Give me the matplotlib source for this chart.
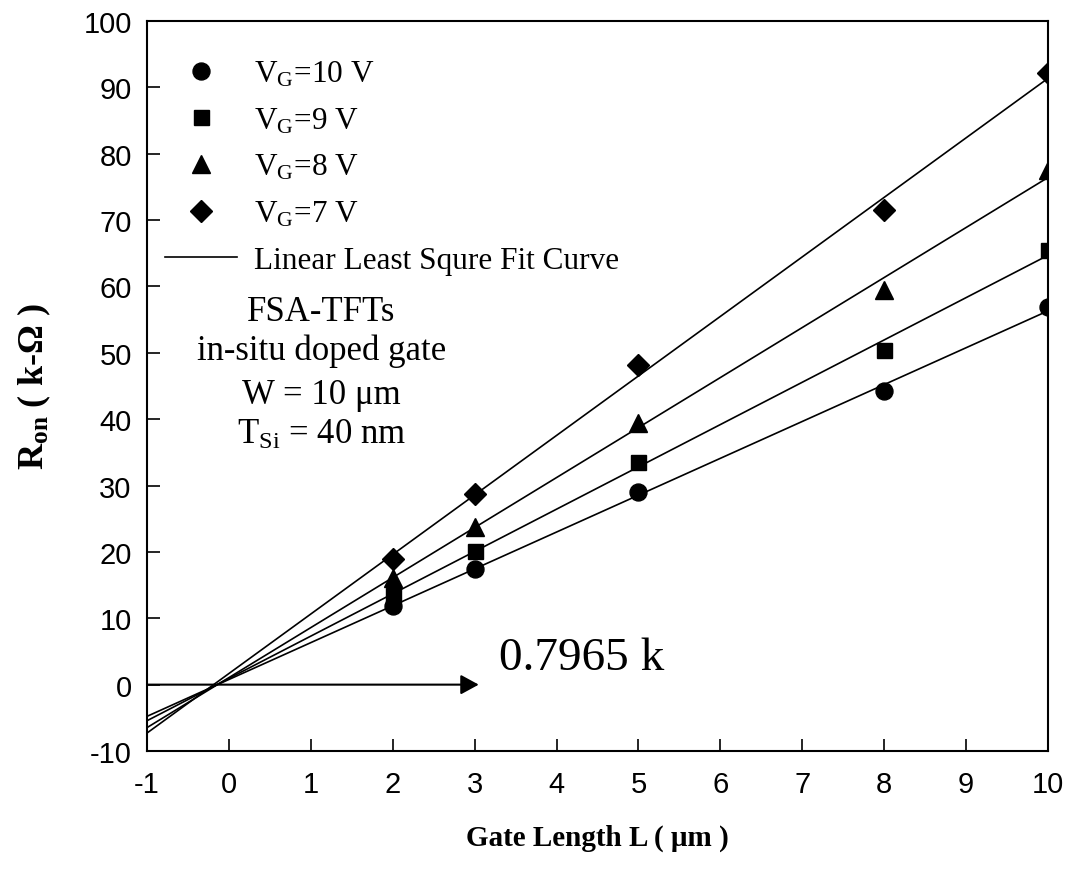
import numpy as np
import matplotlib
matplotlib.use("Agg")
import matplotlib.pyplot as plt

plt.rcParams['mathtext.fontset'] = 'custom'
plt.rcParams['mathtext.rm'] = 'Liberation Serif'
plt.rcParams['mathtext.it'] = 'Liberation Serif:italic'
plt.rcParams['mathtext.bf'] = 'Liberation Serif:bold'
plt.rcParams['axes.unicode_minus'] = False

# ---- data ----
gate_length = [2, 3, 5, 8, 10]
ron_vg10 = [11.8, 17.5, 29.0, 44.2, 56.9]
ron_vg9 = [13.5, 20.2, 33.5, 50.5, 65.5]
ron_vg8 = [16.0, 23.8, 39.5, 59.5, 77.5]
ron_vg7 = [19.0, 28.7, 48.1, 71.5, 92.2]
series_labels = [r"V$_\mathregular{G}$=10 V", r"V$_\mathregular{G}$=9 V",
                 r"V$_\mathregular{G}$=8 V", r"V$_\mathregular{G}$=7 V"]
fit_label = "Linear Least Squre Fit Curve"
x_ticks = list(range(-1, 11))
y_ticks = list(range(-10, 101, 10))
intercept_text = "0.7965 k"
arrow_end_x = 3.05

serif = 'Liberation Serif'
sans = 'Liberation Sans'

fig = plt.figure(figsize=(10.72, 8.70), dpi=100)
ax = fig.add_axes([147/1072, 1-752/870, (1048-147)/1072, (752-22)/870])

series = [ron_vg10, ron_vg9, ron_vg8, ron_vg7]
markers = ['o', 's', '^', 'D']
msizes = [12.2, 10.8, 13.0, 10.8]

xfit = np.array([-1.0, 10.0])
handles = []
for ys, m, ms, lab in zip(series, markers, msizes, series_labels):
    k, b = np.polyfit(gate_length, ys, 1)
    ax.plot(xfit, k*xfit + b, color='k', lw=1.2, zorder=2)
    h, = ax.plot(gate_length, ys, linestyle='none', marker=m, ms=ms,
                 color='k', mec='k', zorder=3, label=lab)
    handles.append(h)
lh, = ax.plot([], [], color='k', lw=1.2, label=fit_label)
handles.append(lh)

ax.set_xlim(-1, 10)
ax.set_ylim(-10, 100)
ax.set_xticks(x_ticks)
ax.set_yticks(y_ticks)
ax.tick_params(direction='in', length=9, width=1.2, top=False, right=False,
               labelsize=21)
ax.tick_params(axis='x', pad=14)
ax.tick_params(axis='y', pad=11)
for lab in ax.get_xticklabels() + ax.get_yticklabels():
    lab.set_fontfamily(sans)
for sp in ax.spines.values():
    sp.set_linewidth(1.5)

leg = ax.legend(handles=handles, loc='upper left',
                bbox_to_anchor=(18/901, 1-38/730), frameon=False,
                prop={'family': serif, 'size': 22.5},
                handlelength=2.3, handletextpad=0.55, labelspacing=0.55,
                borderpad=0, borderaxespad=0, numpoints=1)

# annotation arrow
ax.annotate('', xy=(arrow_end_x, 0), xytext=(-1, 0),
            arrowprops=dict(arrowstyle='-|>,head_length=0.55,head_width=0.3',
                            mutation_scale=20, lw=1.5, color='k',
                            shrinkA=0, shrinkB=0))
ax.text(3.3, 4.0, intercept_text, fontfamily=serif, fontsize=34,
        ha='left', va='center')

# info text block
info_lines = ["FSA-TFTs", "in-situ doped gate", "W = 10 μm",
              r"T$_\mathregular{Si}$ = 40 nm"]
info_y = [54.9, 49.0, 42.5, 36.4]
for t, yy in zip(info_lines, info_y):
    ax.text(1.13, yy, t, fontfamily=serif, fontsize=25, ha='center',
            va='baseline')

ax.set_xlabel("Gate Length L ( μm )", fontfamily=serif, fontsize=21,
              fontweight='bold', labelpad=18)
ax.set_ylabel(r"R$_\mathbf{on}$ ( k-Ω )", fontfamily=serif, fontsize=26,
              fontweight='bold', labelpad=22)

fig.savefig("out.png", dpi=100)
